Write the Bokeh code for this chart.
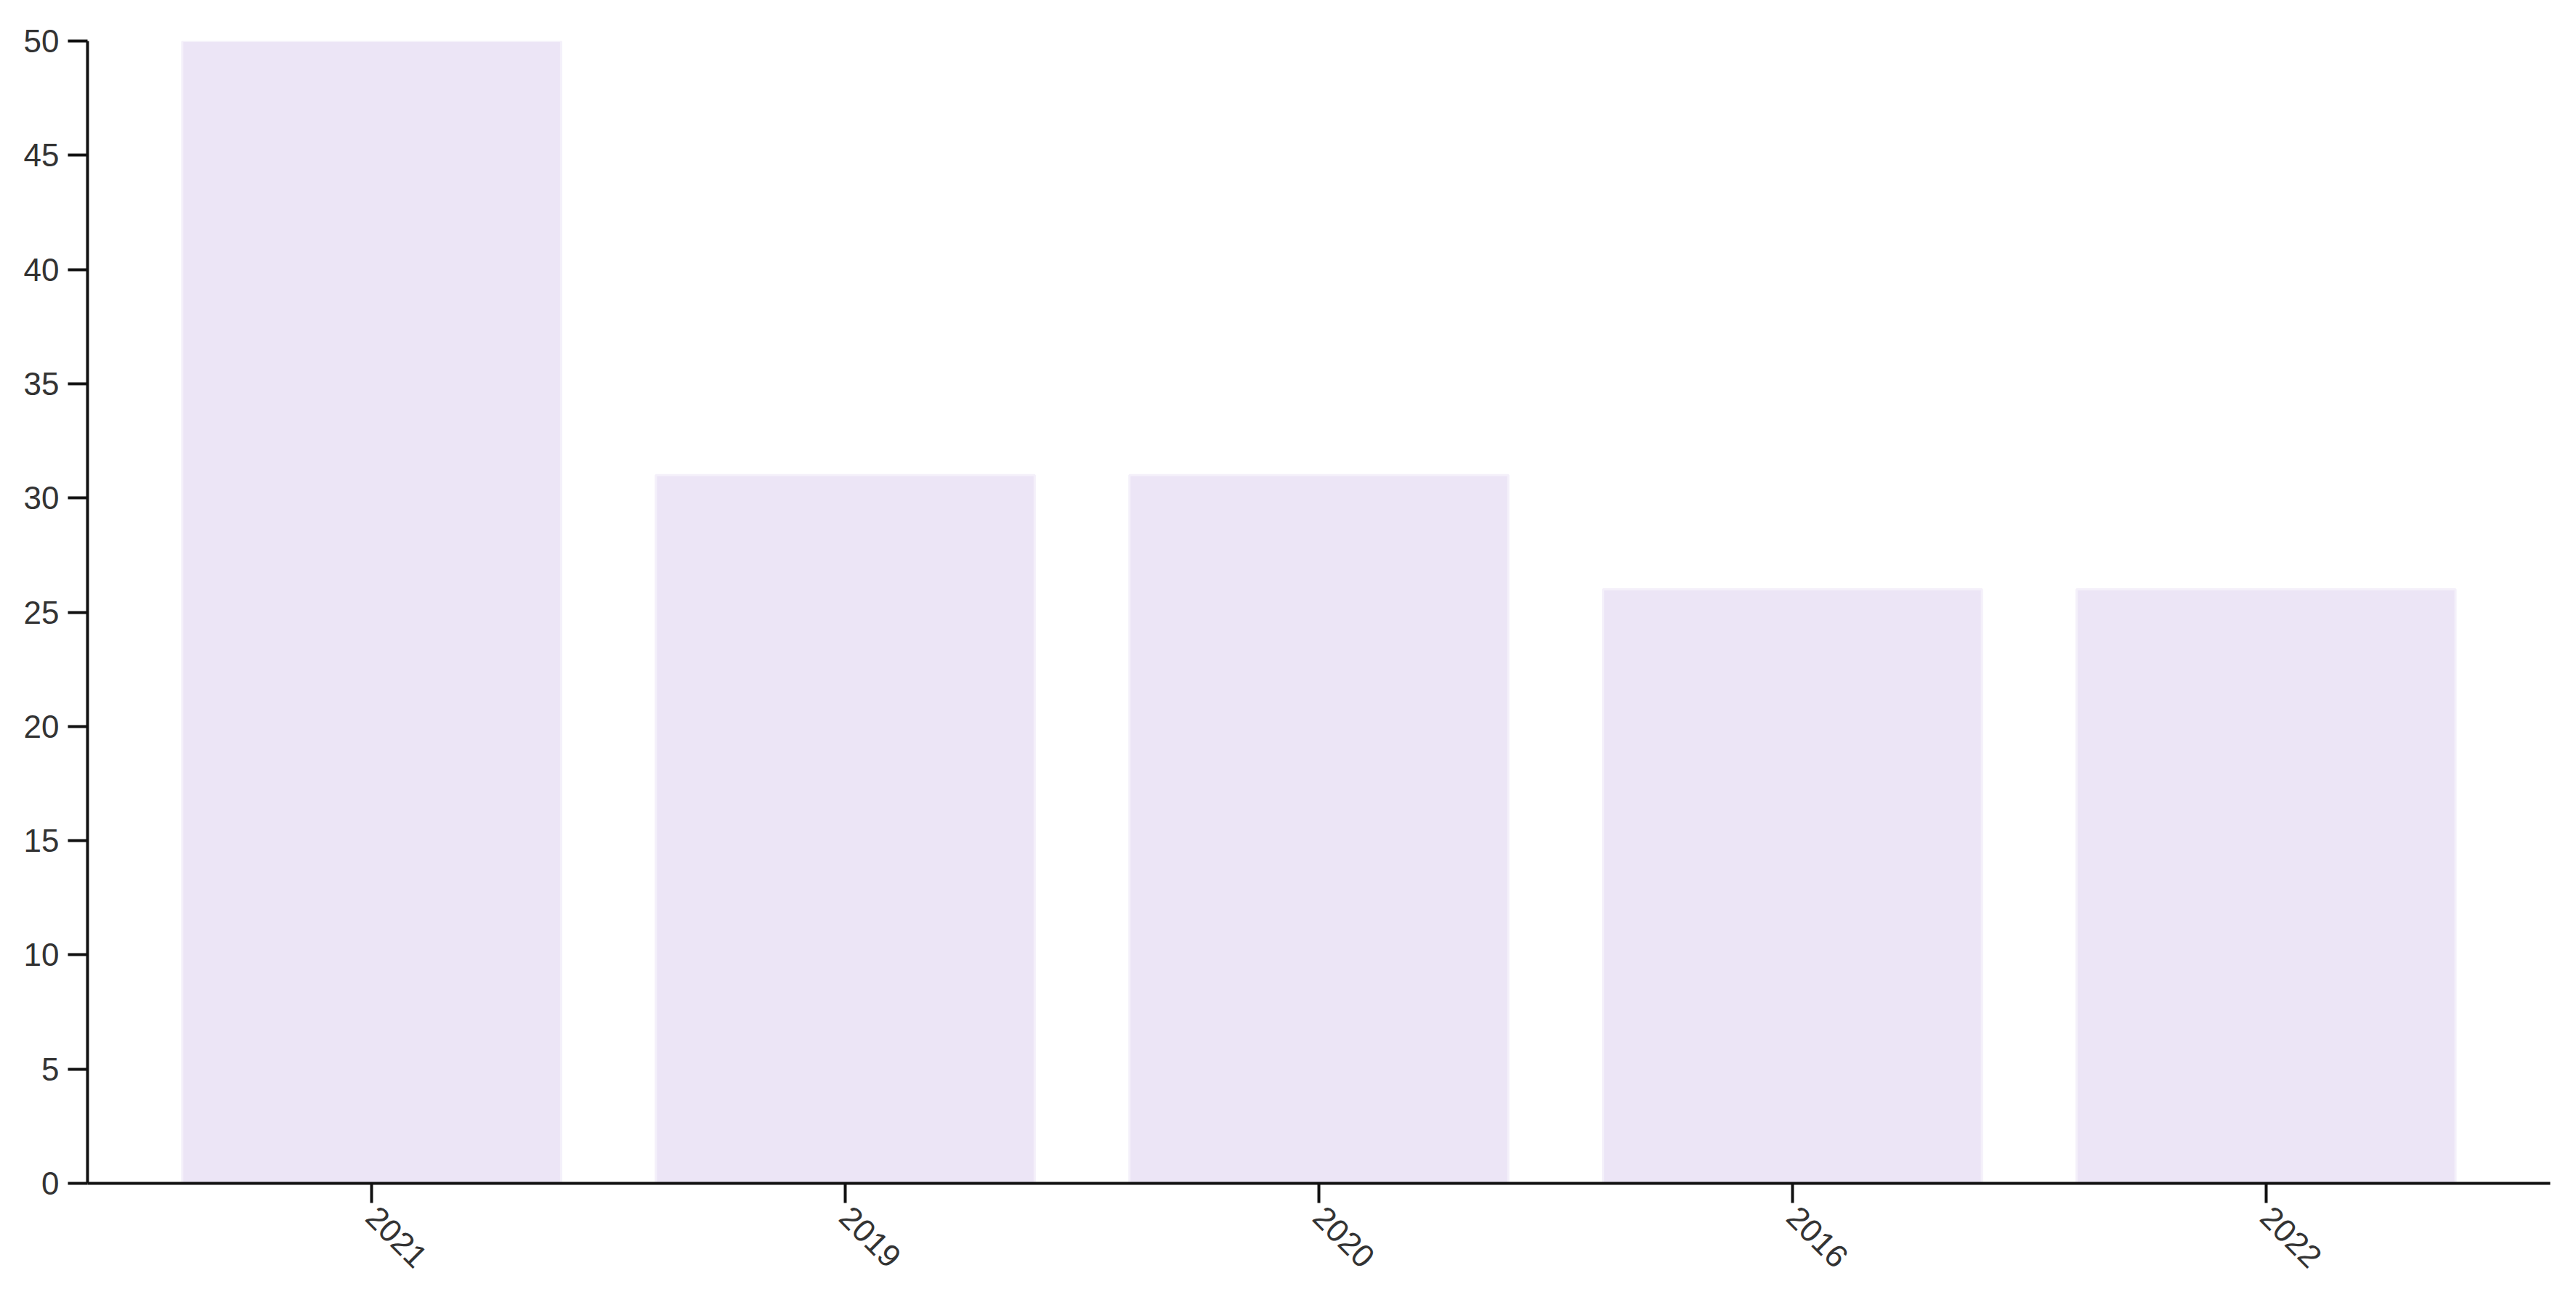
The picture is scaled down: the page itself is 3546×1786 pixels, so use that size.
import math
from bokeh.plotting import figure
from bokeh.models import FactorRange, Range1d, FixedTicker, ColumnDataSource
from bokeh.embed import file_html
from bokeh.resources import INLINE

years = ["2021", "2019", "2020", "2016", "2022"]
counts = [50, 31, 31, 26, 26]
y_ticks = [0, 5, 10, 15, 20, 25, 30, 35, 40, 45, 50]

src = ColumnDataSource(data=dict(year=years, count=counts))

p = figure(
    x_range=FactorRange(factors=years, range_padding=0.1, range_padding_units="absolute"),
    y_range=Range1d(0, 50),
    width=3530, height=1778,
    output_backend="svg", toolbar_location=None,
    min_border_left=120, min_border_right=20, min_border_top=56, min_border_bottom=149,
)
p.vbar(x="year", top="count", width=0.8, source=src,
       fill_color="#ECE5F6", line_color="#F4F0FA", line_width=3)

p.xgrid.visible = False
p.ygrid.visible = False
p.outline_line_color = None
p.background_fill_color = "white"

p.yaxis.ticker = FixedTicker(ticks=y_ticks)
for ax in (p.xaxis[0], p.yaxis[0]):
    ax.axis_line_color = "#111111"
    ax.axis_line_width = 4
    ax.major_tick_line_color = "#111111"
    ax.major_tick_line_width = 4
    ax.major_tick_out = 27
    ax.major_tick_in = 0
    ax.minor_tick_line_color = None
    ax.major_label_text_font = "Liberation Sans"
    ax.major_label_text_font_size = "44px"
    ax.major_label_text_color = "#333333"
    ax.major_label_standoff = 12

p.xaxis.major_label_orientation = -math.pi / 4

open("out.html", "w").write(file_html(p, INLINE))
